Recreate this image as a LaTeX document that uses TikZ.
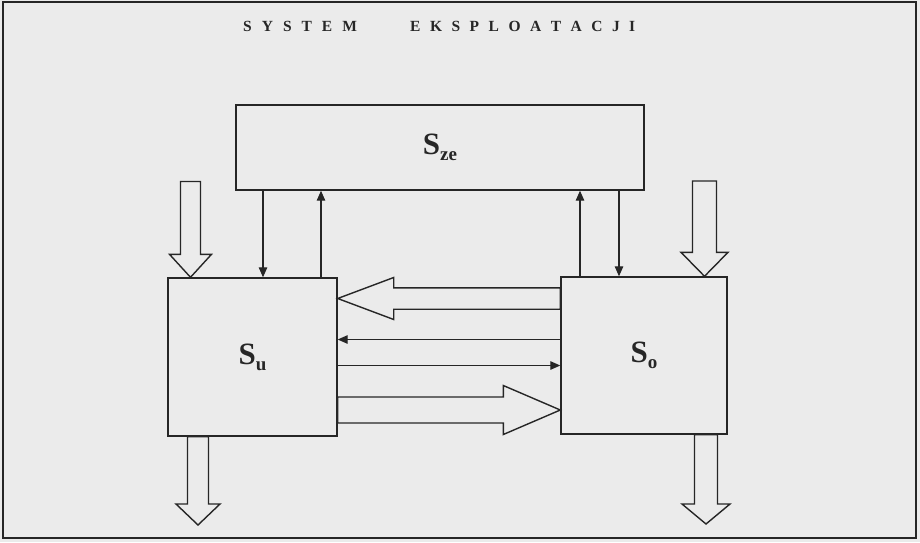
\documentclass[tikz,border=0pt]{standalone}
\usepackage{fontspec}
\setmainfont{Liberation Serif}
\usetikzlibrary{arrows.meta,calc}
\definecolor{paper}{HTML}{EBEBEB}
\definecolor{ink}{HTML}{262626}
\tikzset{
  box/.style={draw=ink, line width=1.4pt, inner sep=0pt, text=ink,
    font=\bfseries\fontsize{31}{31}\selectfont},
  thinarr/.style={draw=ink, line width=1.2pt, -{Triangle[length=10pt,width=8.5pt]}},
  hollow/.style={draw=ink, line width=1.4pt, line join=miter, fill=paper},
  titletext/.style={inner sep=0pt, anchor=base west, text=ink,
    font=\bfseries\fontsize{15.5}{15.5}\selectfont},
}
\newcommand\subtxt[1]{\raisebox{-6pt}{\fontsize{19}{19}\selectfont #1}}
% horizontal hollow arrow: tip, tail, half shaft, half head, head length
\newcommand\hollowH[5]{%
  \draw[hollow] let \p1=(#1), \p2=(#2), \p3=($(#1)!#5!(#2)$) in
    (\p1) -- (\x3,{\y1+#4}) -- (\x3,{\y1+#3}) -- (\x2,{\y1+#3})
    -- (\x2,{\y1-#3}) -- (\x3,{\y1-#3}) -- (\x3,{\y1-#4}) -- cycle;}
% vertical hollow arrow: tip, tail, half shaft, half head, head length
\newcommand\hollowV[5]{%
  \draw[hollow] let \p1=(#1), \p2=(#2), \p3=($(#1)!#5!(#2)$) in
    (\p1) -- ({\x1+#4},\y3) -- ({\x1+#3},\y3) -- ({\x1+#3},\y2)
    -- ({\x1-#3},\y2) -- ({\x1-#3},\y3) -- ({\x1-#4},\y3) -- cycle;}
\begin{document}
\begin{tikzpicture}[x=1pt,y=-1pt]
  \fill[paper] (0,0) rectangle (920,542);
  \draw[ink, line width=1.6pt] (3,2) rectangle (916,538);

  % title
  \node[titletext] (t1) at (243,31)
    {S\kern10pt Y\kern10pt S\kern10pt T\kern10pt E\kern10pt M};
  \node[titletext] (t2) at (410,31)
    {E\kern9.5pt K\kern9.5pt S\kern9.5pt P\kern9.5pt L\kern9.5pt O\kern9.5pt A\kern9.5pt T\kern9.5pt A\kern9.5pt C\kern9.5pt J\kern9.5pt I};

  % boxes
  \node[box, minimum width=408pt, minimum height=85pt] (Sze) at (440,147.5) {S\subtxt{ze}};
  \node[box, minimum width=169pt, minimum height=158pt] (Su) at (252.5,357) {S\subtxt{u}};
  \node[box, minimum width=166pt, minimum height=157pt] (So) at (644,355.5) {S\subtxt{o}};

  % thin vertical arrows
  \coordinate (d1) at ([xshift=10.5pt]Su.north);
  \coordinate (u1) at ([xshift=68.5pt]Su.north);
  \coordinate (u2) at ([xshift=-64pt]So.north);
  \coordinate (d2) at ([xshift=-25pt]So.north);
  \draw[thinarr] (d1 |- Sze.south) -- (d1);
  \draw[thinarr] (u1) -- (u1 |- Sze.south);
  \draw[thinarr] (u2) -- (u2 |- Sze.south);
  \draw[thinarr] (d2 |- Sze.south) -- (d2);

  % thin horizontal arrows
  \coordinate (h1) at (0,339.5);
  \coordinate (h2) at (0,365.5);
  \draw[thinarr] (So.west |- h1) -- (Su.east |- h1);
  \draw[thinarr] (Su.east |- h2) -- (So.west |- h2);

  % big hollow horizontal arrows
  \coordinate (bl) at (0,298.5);
  \coordinate (blT) at (Su.east |- bl);
  \coordinate (blS) at (So.west |- bl);
  \hollowH{blT}{blS}{10.7pt}{21pt}{56pt}
  \coordinate (br) at (0,410);
  \coordinate (brT) at (So.west |- br);
  \coordinate (brS) at (Su.east |- br);
  \hollowH{brT}{brS}{13pt}{24.5pt}{57pt}

  % input arrows
  \coordinate (inL) at (190.5,181.5);
  \coordinate (inLt) at (Su.north -| inL);
  \hollowV{inLt}{inL}{10pt}{21pt}{23pt}
  \coordinate (inR) at (704.5,181);
  \coordinate (inRt) at (So.north -| inR);
  \hollowV{inRt}{inR}{12pt}{23.5pt}{24pt}

  % output arrows
  \coordinate (outL) at (198,525);
  \coordinate (outLs) at (Su.south -| outL);
  \hollowV{outL}{outLs}{10.5pt}{22pt}{21pt}
  \coordinate (outR) at (706,524);
  \coordinate (outRs) at (So.south -| outR);
  \hollowV{outR}{outRs}{11.5pt}{24pt}{20pt}
\end{tikzpicture}
\end{document}
